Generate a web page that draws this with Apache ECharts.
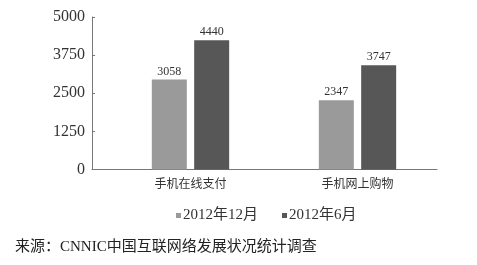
<!DOCTYPE html>
<html><head><meta charset="utf-8">
<script src="https://cdn.jsdelivr.net/npm/echarts@6/dist/echarts.min.js"></script>
<style>html,body{margin:0;padding:0;background:#fff}#c{width:477px;height:265px}</style>
</head><body><div id="c"></div>
<script>
var categories = ['手机在线支付', '手机网上购物'];
var seriesNames = ['2012年12月', '2012年6月'];
// bar heights as drawn in the picture
var dec2012 = [2950, 2270];
var jun2012 = [4235, 3420];
// printed value labels
var dec2012Labels = ['3058', '2347'];
var jun2012Labels = ['4440', '3747'];
var yTicks = [0, 1250, 2500, 3750, 5000];
var sourceText = '来源：CNNIC中国互联网络发展状况统计调查';

var serif = '"Liberation Serif", "Noto Sans CJK SC", serif';
var chart = echarts.init(document.getElementById('c'));
chart.setOption({
  backgroundColor: '#fff',
  animation: false,
  textStyle: {fontFamily: serif},
  legend: {
    data: seriesNames, left: 171, top: 203, itemWidth: 5, itemHeight: 5, itemGap: 24,
    icon: 'rect',
    textStyle: {fontFamily: serif, fontSize: 15, color: '#333', padding: [0, 0, 0, -3]}
  },
  title: {
    text: sourceText, left: 10, top: 235,
    textStyle: {fontFamily: serif, fontSize: 15, fontWeight: 'normal', color: '#222'}
  },
  grid: [
    {left: 107, right: 36, top: 17, bottom: 95.5},
    {left: 92, right: 40, top: 17, bottom: 95.5}
  ],
  xAxis: [
    {gridIndex: 0, type: 'category', data: categories,
     axisLine: {show: false}, axisTick: {show: false},
     axisLabel: {fontFamily: serif, fontSize: 12, color: '#333', margin: 9}},
    {gridIndex: 1, type: 'category', data: categories,
     axisLine: {show: true, lineStyle: {color: '#777', width: 1}}, axisTick: {show: false},
     axisLabel: {show: false}}
  ],
  yAxis: [
    {gridIndex: 0, type: 'value', min: yTicks[0], max: yTicks[yTicks.length - 1], interval: 1250,
     show: false, splitLine: {show: false}},
    {gridIndex: 1, type: 'value', min: yTicks[0], max: yTicks[yTicks.length - 1], interval: 1250,
     axisLine: {show: true, lineStyle: {color: '#777', width: 1}},
     axisTick: {show: true, inside: true, length: 3, lineStyle: {color: '#777'}},
     splitLine: {show: false},
     axisLabel: {fontFamily: serif, fontSize: 16, color: '#333', margin: 7,
       formatter: function (v) { return String(v); }}}
  ],
  series: [
    {name: seriesNames[0], type: 'bar', xAxisIndex: 0, yAxisIndex: 0, data: dec2012,
     barWidth: 35, barGap: '21%', itemStyle: {color: '#9a9a9a'},
     label: {show: true, position: 'top', distance: 2, fontFamily: serif, fontSize: 12, color: '#333',
       formatter: function (p) { return dec2012Labels[p.dataIndex]; }}},
    {name: seriesNames[1], type: 'bar', xAxisIndex: 0, yAxisIndex: 0, data: jun2012,
     barWidth: 35, barGap: '21%', itemStyle: {color: '#575757'},
     label: {show: true, position: 'top', distance: 2, fontFamily: serif, fontSize: 12, color: '#333',
       formatter: function (p) { return jun2012Labels[p.dataIndex]; }}}
  ]
});
</script></body></html>
